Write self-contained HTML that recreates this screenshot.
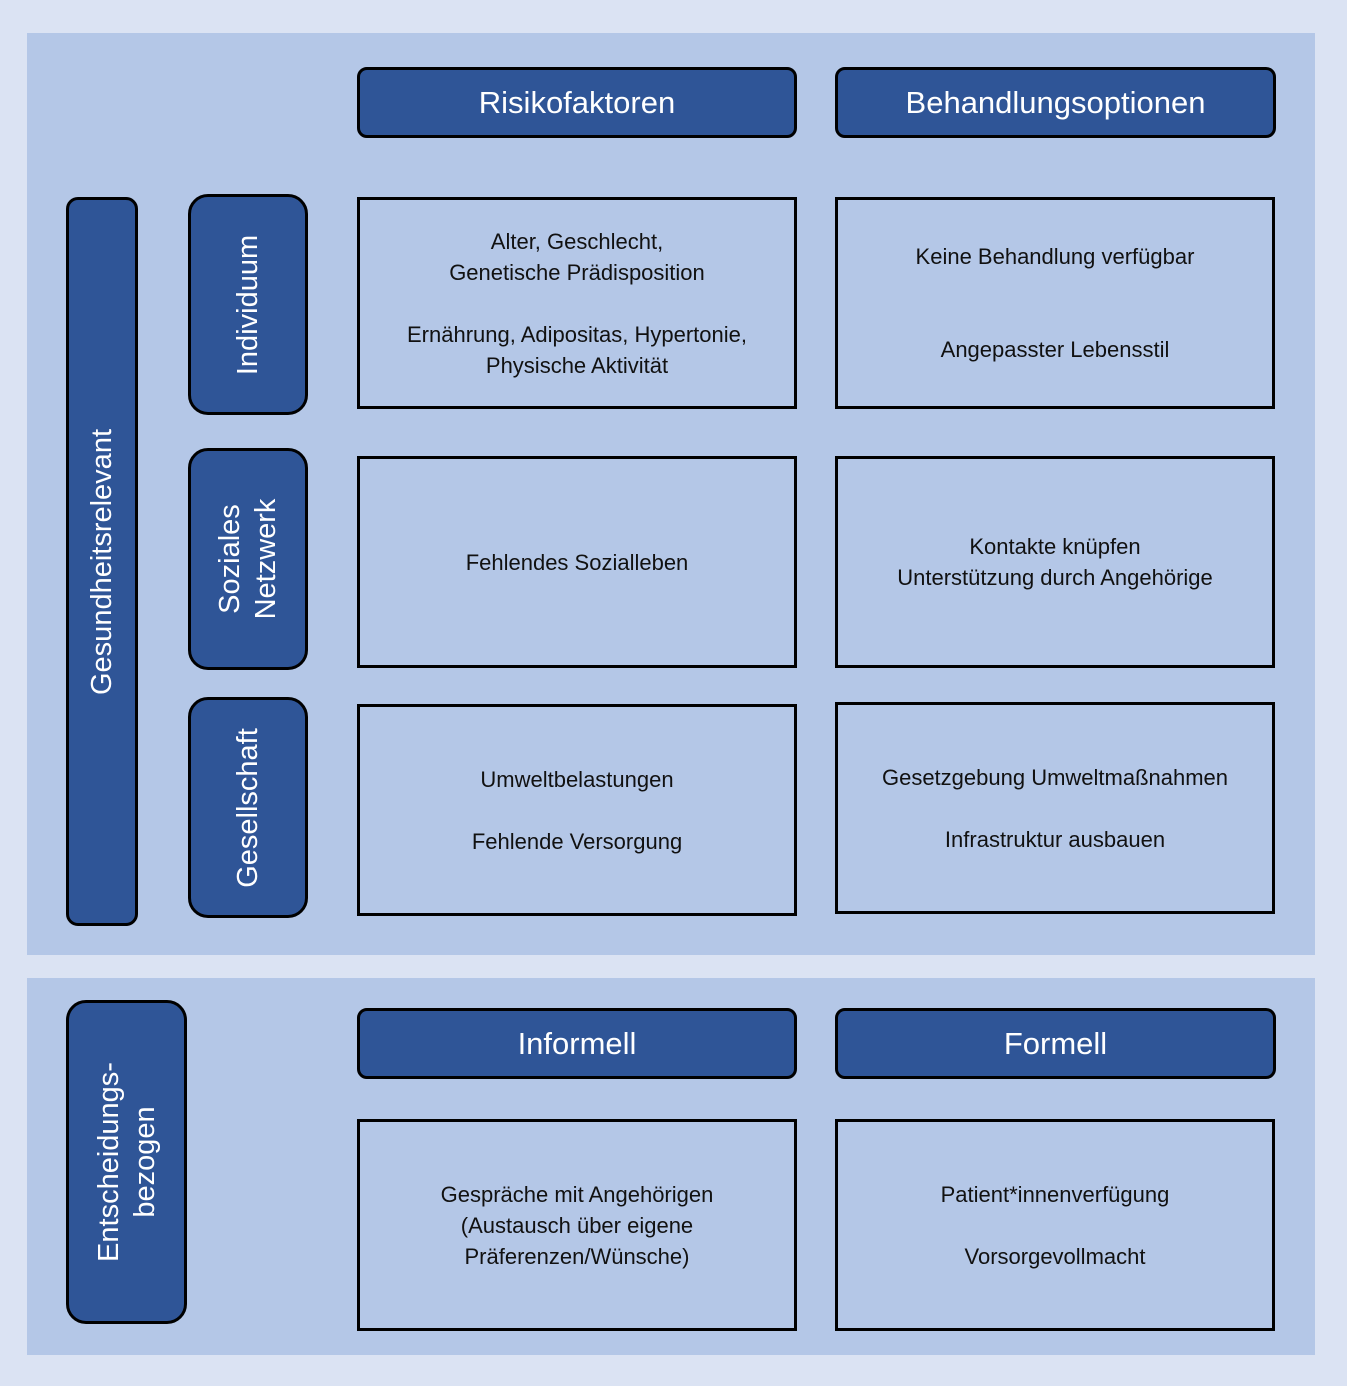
<!DOCTYPE html>
<html><head><meta charset="utf-8"><style>
*{box-sizing:border-box;margin:0;padding:0}
body{width:1347px;height:1386px;background:#dbe3f3;position:relative;overflow:hidden;font-family:"Liberation Sans",sans-serif}
.p{position:absolute;background:#b4c7e7}
.h{position:absolute;background:#2f5597;border:3px solid #000;border-radius:10px;color:#fff;font-size:31px;display:flex;align-items:center;justify-content:center}
.b{position:absolute;border:3px solid #000;display:flex;align-items:center;justify-content:center;text-align:center;font-size:22px;line-height:31px;color:#111}
.v{position:absolute;background:#2f5597;border:3px solid #000;border-radius:20px;}
.v span{position:absolute;left:50%;top:50%;transform:translate(-50%,-50%) rotate(-90deg);color:#fff;font-size:29px;white-space:nowrap;text-align:center;line-height:36px}
</style></head><body>
<div class="p" style="left:27px;top:33px;width:1288px;height:922px"></div>
<div class="p" style="left:27px;top:978px;width:1288px;height:377px"></div>

<div class="h" style="left:357px;top:67px;width:440px;height:71px">Risikofaktoren</div>
<div class="h" style="left:835px;top:67px;width:441px;height:71px">Behandlungsoptionen</div>

<div class="v" style="left:66px;top:197px;width:72px;height:729px;border-radius:12px"><span>Gesundheitsrelevant</span></div>
<div class="v" style="left:188px;top:194px;width:120px;height:221px"><span>Individuum</span></div>
<div class="v" style="left:188px;top:448px;width:120px;height:222px"><span>Soziales<br>Netzwerk</span></div>
<div class="v" style="left:188px;top:697px;width:120px;height:221px"><span>Gesellschaft</span></div>
<div class="v" style="left:66px;top:1000px;width:121px;height:324px"><span>Entscheidungs-<br>bezogen</span></div>

<div class="b" style="left:357px;top:197px;width:440px;height:212px">Alter, Geschlecht,<br>Genetische Prädisposition<br><br>Ernährung, Adipositas, Hypertonie,<br>Physische Aktivität</div>
<div class="b" style="left:835px;top:197px;width:440px;height:212px">Keine Behandlung verfügbar<br><br><br>Angepasster Lebensstil</div>
<div class="b" style="left:357px;top:456px;width:440px;height:212px">Fehlendes Sozialleben</div>
<div class="b" style="left:835px;top:456px;width:440px;height:212px">Kontakte knüpfen<br>Unterstützung durch Angehörige</div>
<div class="b" style="left:357px;top:704px;width:440px;height:212px">Umweltbelastungen<br><br>Fehlende Versorgung</div>
<div class="b" style="left:835px;top:702px;width:440px;height:212px">Gesetzgebung Umweltmaßnahmen<br><br>Infrastruktur ausbauen</div>

<div class="h" style="left:357px;top:1008px;width:440px;height:71px">Informell</div>
<div class="h" style="left:835px;top:1008px;width:441px;height:71px">Formell</div>
<div class="b" style="left:357px;top:1119px;width:440px;height:212px">Gespräche mit Angehörigen<br>(Austausch über eigene<br>Präferenzen/Wünsche)</div>
<div class="b" style="left:835px;top:1119px;width:440px;height:212px">Patient*innenverfügung<br><br>Vorsorgevollmacht</div>
</body></html>
